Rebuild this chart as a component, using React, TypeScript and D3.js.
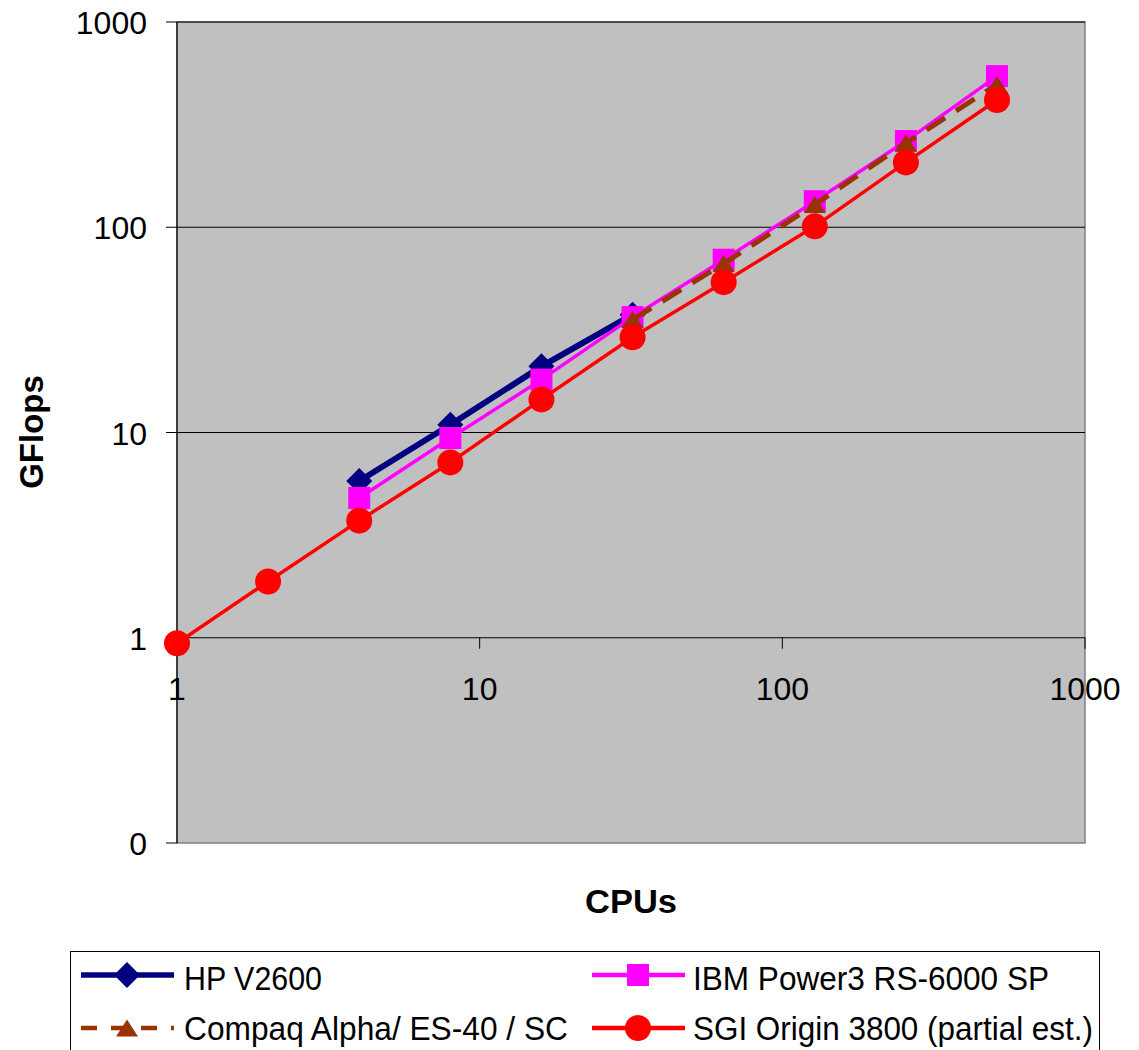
import React from "react";
import * as d3 from "d3";

const cpus = [1, 2, 4, 8, 16, 32, 64, 128, 256, 512];
const hpV2600 = [null, null, 5.8, 10.9, 21, 37.5, null, null, null, null];
const ibmPower3 = [null, null, 4.8, 9.4, 18.1, 36.5, 69.5, 134, 263, 545];
const compaqAlpha = [null, null, null, null, null, 35.5, 66.5, 129, 257, 496];
const sgiOrigin = [0.94, 1.88, 3.72, 7.15, 14.5, 29.1, 54, 101, 207, 417];

const yTicks = [0.1, 1, 10, 100, 1000];
const yTickLabels = ["0", "1", "10", "100", "1000"];
const xTicks = [1, 10, 100, 1000];
const xTickLabels = ["1", "10", "100", "1000"];

const legendNames = [
  "HP V2600",
  "IBM Power3 RS-6000 SP",
  "Compaq Alpha/ ES-40 / SC",
  "SGI Origin 3800 (partial est.)",
];

const FONT = "'Liberation Sans', Arial, Helvetica, sans-serif";

type Marker = "diamond" | "square" | "triangle" | "circle";

function markerPath(kind: Marker, cx: number, cy: number): string {
  const p = d3.path();
  if (kind === "diamond") {
    const r = 13;
    p.moveTo(cx, cy - r);
    p.lineTo(cx + r, cy);
    p.lineTo(cx, cy + r);
    p.lineTo(cx - r, cy);
    p.closePath();
  } else if (kind === "square") {
    const h = 11;
    p.rect(cx - h, cy - h, 2 * h, 2 * h);
  } else if (kind === "triangle") {
    const w = 11;
    const h = 17;
    p.moveTo(cx, cy - h / 2);
    p.lineTo(cx + w, cy + h / 2);
    p.lineTo(cx - w, cy + h / 2);
    p.closePath();
  } else {
    p.moveTo(cx + 13, cy);
    p.arc(cx, cy, 13, 0, Math.PI * 2);
    p.closePath();
  }
  return p.toString();
}

export default function App() {
  const W = 1139;
  const H = 1050;
  const left = 177;
  const right = 1085;
  const top = 22;
  const bottom = 843;

  const x = d3.scaleLog().domain([1, 1000]).range([left, right]);
  const y = d3.scaleLog().domain([0.1, 1000]).range([bottom, top]);
  const axisY = y(1);

  const series = [
    { name: legendNames[0], values: hpV2600, color: "#000080", width: 6, dash: "", marker: "diamond" as Marker },
    { name: legendNames[1], values: ibmPower3, color: "#FF00FF", width: 3.5, dash: "", marker: "square" as Marker },
    { name: legendNames[2], values: compaqAlpha, color: "#993300", width: 5, dash: "22,13", marker: "triangle" as Marker },
    { name: legendNames[3], values: sgiOrigin, color: "#FF0000", width: 3.5, dash: "", marker: "circle" as Marker },
  ];

  const line = d3
    .line<[number, number | null]>()
    .defined((d) => d[1] != null)
    .x((d) => x(d[0]))
    .y((d) => y(d[1] as number));

  const legendPos = [
    { lx: 81, tx: 184, ly: 975, ty: 990, tw: 138 },
    { lx: 592, tx: 693, ly: 975, ty: 990, tw: 356 },
    { lx: 81, tx: 184, ly: 1028, ty: 1040, tw: 384 },
    { lx: 592, tx: 693, ly: 1028, ty: 1040, tw: 400 },
  ];

  return (
    <svg
      width={W}
      height={H}
      style={{ position: "absolute", left: 0, top: 0, background: "#fff" }}
      fontFamily={FONT}
    >
      <rect x={0} y={0} width={W} height={H} fill="#fff" />
      {/* plot area */}
      <rect x={left} y={top} width={right - left} height={bottom - top} fill="#C0C0C0" stroke="#808080" strokeWidth={1.5} />
      {/* gridlines */}
      {yTicks.slice(2).map((t) => (
        <line key={t} x1={left} x2={right} y1={y(t)} y2={y(t)} stroke="#000" strokeWidth={1} />
      ))}
      {/* y axis */}
      <line x1={left} x2={left} y1={top} y2={bottom} stroke="#000" strokeWidth={1.2} />
      {yTicks.map((t, i) => (
        <g key={t}>
          <line x1={left - 11} x2={left} y1={y(t)} y2={y(t)} stroke="#000" strokeWidth={1} />
          <text x={147} y={y(t) + 12} textAnchor="end" fontSize={32} fill="#000">
            {yTickLabels[i]}
          </text>
        </g>
      ))}
      {/* x axis */}
      <line x1={left} x2={right} y1={axisY} y2={axisY} stroke="#000" strokeWidth={1.2} />
      {xTicks.map((t, i) => (
        <g key={t}>
          <line x1={x(t)} x2={x(t)} y1={axisY} y2={axisY + 11} stroke="#000" strokeWidth={1} />
          <text x={x(t)} y={axisY + 62} textAnchor="middle" fontSize={32} fill="#000">
            {xTickLabels[i]}
          </text>
        </g>
      ))}
      {/* series */}
      {series.map((s) => {
        const pts = cpus.map((c, i) => [c, s.values[i]] as [number, number | null]);
        return (
          <g key={s.name}>
            <path d={line(pts) || ""} fill="none" stroke={s.color} strokeWidth={s.width} strokeDasharray={s.dash || undefined} strokeLinejoin="round" />
            {pts
              .filter((d) => d[1] != null)
              .map((d) => (
                <path key={d[0]} d={markerPath(s.marker, x(d[0]), y(d[1] as number))} fill={s.color} />
              ))}
          </g>
        );
      })}
      {/* axis titles */}
      <text
        transform={`translate(43, 432) rotate(-90)`}
        textAnchor="middle"
        fontSize={33}
        fontWeight="bold"
        fill="#000"
      >
        GFlops
      </text>
      <text x={631} y={913} textAnchor="middle" fontSize={33} fontWeight="bold" fill="#000" textLength={92} lengthAdjust="spacingAndGlyphs">
        CPUs
      </text>
      {/* legend */}
      <rect x={70.5} y={951.5} width={1029} height={120} fill="#fff" stroke="#000" strokeWidth={1} />
      {series.map((s, i) => {
        const p = legendPos[i];
        return (
          <g key={s.name}>
            <line x1={p.lx} x2={p.lx + 93} y1={p.ly} y2={p.ly} stroke={s.color} strokeWidth={s.width === 6 ? 5.5 : 4.5} strokeDasharray={s.dash ? "16,14" : undefined} />
            <path d={markerPath(s.marker, p.lx + 46, p.ly)} fill={s.color} />
            <text x={p.tx} y={p.ty} fontSize={34} fill="#000" textLength={p.tw} lengthAdjust="spacingAndGlyphs">
              {s.name}
            </text>
          </g>
        );
      })}
    </svg>
  );
}
